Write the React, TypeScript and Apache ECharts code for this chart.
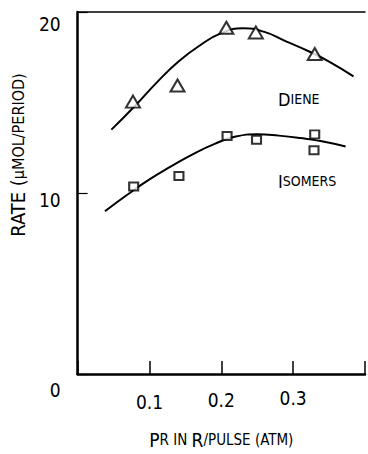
import React, { useEffect, useRef } from "react";
import * as echarts from "echarts";

const dieneX = [0.077, 0.139, 0.207, 0.248, 0.33];
const dieneY = [15.05, 15.94, 19.13, 18.87, 17.68];
const isoX = [0.078, 0.141, 0.208, 0.249, 0.33, 0.329];
const isoY = [10.36, 10.94, 13.15, 12.94, 13.24, 12.36];

const dieneCurveX = [0.047, 0.08, 0.11, 0.14, 0.17, 0.2, 0.23, 0.26, 0.29, 0.32, 0.35, 0.384];
const dieneCurveY = [13.5, 14.82, 16.1, 17.25, 18.15, 18.83, 19.1, 18.9, 18.38, 17.86, 17.26, 16.44];
const isoCurveX = [0.038, 0.07, 0.1, 0.13, 0.16, 0.19, 0.22, 0.25, 0.28, 0.31, 0.34, 0.373];
const isoCurveY = [8.99, 9.93, 10.75, 11.47, 12.14, 12.7, 13.12, 13.24, 13.17, 13.04, 12.86, 12.57];

const xTicks = ["0.1", "0.2", "0.3"];
const yTicks = ["0", "10", "20"];

const FONT = "'DejaVu Sans Condensed', 'Liberation Sans Narrow', 'DejaVu Sans', sans-serif";

const zip = (xs: number[], ys: number[]) => xs.map((x, i) => [x, ys[i]]);

export default function App() {
  const ref = useRef<HTMLDivElement>(null);
  useEffect(() => {
    if (!ref.current) return;
    const chart = echarts.init(ref.current, null, { renderer: "svg" });
    const tok = (lh: number) => ({
      fontFamily: FONT,
      fontSize: 19,
      fontWeight: "lighter",
      color: "#000",
      lineHeight: lh,
      verticalAlign: "bottom",
    });
    chart.setOption({
      animation: false,
      backgroundColor: "#fff",
      grid: { left: 69, right: 0, top: 12, bottom: 65 },
      xAxis: [
        {
          type: "value",
          min: 0,
          max: 0.4,
          interval: 0.1,
          position: "bottom",
          axisLine: { show: true, lineStyle: { color: "#000", width: 2.5 } },
          axisTick: { show: true, inside: true, length: 13, lineStyle: { color: "#000", width: 1.5 } },
          splitLine: { show: false },
          axisLabel: {
            margin: 11,
            color: "#000",
            formatter: (v: number) => {
              const s = v.toFixed(1);
              if (!xTicks.includes(s)) return "";
              return `{x${xTicks.indexOf(s)}|${s}}`;
            },
            rich: { x0: tok(26), x1: tok(24), x2: tok(22) },
          },
          name: "{b|P}{s|R IN }{b|R}{s|/PULSE (ATM)}",
          nameLocation: "middle",
          nameGap: 56,
          nameTextStyle: {
            rich: {
              b: { fontFamily: FONT, fontSize: 19, fontWeight: "lighter", color: "#000" },
              s: { fontFamily: FONT, fontSize: 15, fontWeight: "lighter", color: "#000" },
            },
          },
        },
        {
          type: "value",
          min: 0,
          max: 0.4,
          position: "top",
          axisLine: { show: true, lineStyle: { color: "#000", width: 1.5 } },
          axisTick: { show: false },
          axisLabel: { show: false },
          splitLine: { show: false },
        },
      ],
      yAxis: {
        type: "value",
        min: 0,
        max: 20,
        interval: 10,
        axisLine: { show: true, lineStyle: { color: "#000", width: 2.5 } },
        axisTick: { show: true, inside: true, length: 10, lineStyle: { color: "#000", width: 1.2 } },
        splitLine: { show: false },
        axisLabel: {
          margin: 17,
          color: "#000",
          formatter: (v: number) => {
            const s = String(v);
            if (!yTicks.includes(s)) return "";
            return `{t${s}|${s}}`;
          },
          rich: { t0: tok(50), t10: tok(32), t20: tok(42) },
        },
        name: "{b|RATE (}{s|μMOL/PERIOD)}",
        nameLocation: "middle",
        nameRotate: 90,
        nameGap: 44,
        nameTextStyle: {
          padding: [0, 0, 0, 76],
          rich: {
            b: { fontFamily: FONT, fontSize: 20, fontWeight: "lighter", color: "#000" },
            s: { fontFamily: FONT, fontSize: 16, fontWeight: "lighter", color: "#000" },
          },
        },
      },
      graphic: [
        {
          type: "text",
          left: 278,
          top: 90,
          style: {
            text: "{b|D}{s|IENE}",
            rich: {
              b: { fontFamily: FONT, fontSize: 18, fontWeight: "lighter", fill: "#000" },
              s: { fontFamily: FONT, fontSize: 14, fontWeight: "lighter", fill: "#000" },
            },
          },
        },
        {
          type: "text",
          left: 278,
          top: 172,
          style: {
            text: "{b|I}{s|SOMERS}",
            rich: {
              b: { fontFamily: FONT, fontSize: 18, fontWeight: "lighter", fill: "#000" },
              s: { fontFamily: FONT, fontSize: 14, fontWeight: "lighter", fill: "#000" },
            },
          },
        },
      ],
      series: [
        {
          type: "line",
          data: zip(dieneCurveX, dieneCurveY),
          smooth: 0.5,
          showSymbol: false,
          lineStyle: { color: "#000", width: 2 },
          z: 1,
        },
        {
          type: "line",
          data: zip(isoCurveX, isoCurveY),
          smooth: 0.5,
          showSymbol: false,
          lineStyle: { color: "#000", width: 2 },
          z: 1,
        },
        {
          type: "scatter",
          data: zip(dieneX, dieneY),
          symbol: "triangle",
          symbolSize: [14, 12],
          itemStyle: { color: "#fff", borderColor: "#000", borderWidth: 2 },
          z: 3,
        },
        {
          type: "scatter",
          data: zip(isoX, isoY),
          symbol: "rect",
          symbolSize: [9, 8],
          itemStyle: { color: "#fff", borderColor: "#000", borderWidth: 2 },
          z: 3,
        },
      ],
    });
    return () => chart.dispose();
  }, []);
  return <div ref={ref} style={{ width: 368, height: 454, position: "absolute", left: 0, top: 0 }} />;
}
